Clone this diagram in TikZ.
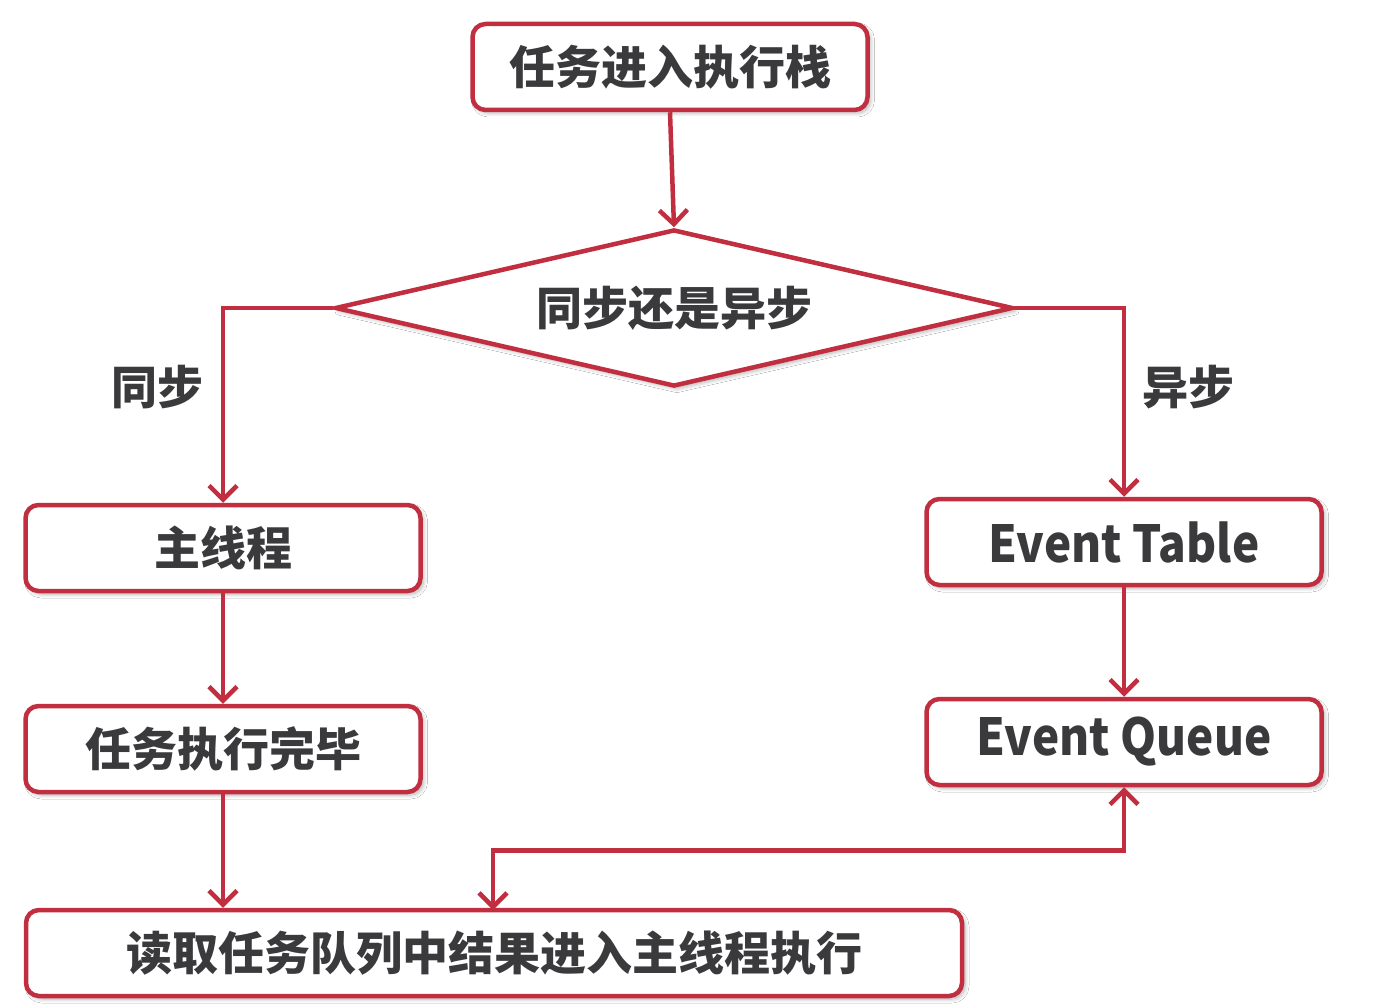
\documentclass[tikz,border=0pt]{standalone}
\usepackage{fontspec}
\newfontfamily\cjk{Noto Sans CJK SC}
\newfontfamily\enf{Noto Sans CJK SC}[FakeStretch=0.9]
\usetikzlibrary{arrows.meta,shapes.geometric,shadows.blur}
\definecolor{lred}{RGB}{192,46,64}
\definecolor{ltext}{RGB}{58,57,60}
\tikzset{
  shd/.style={blur shadow={shadow xshift=3pt, shadow yshift=-3pt, shadow blur steps=8, shadow blur radius=4pt, shadow opacity=30}},
  box/.style={draw=lred, line width=4.5pt, rounded corners=13pt, fill=white,
    minimum width=395pt, minimum height=86pt, inner sep=0pt, text=ltext,
    font=\cjk\bfseries\fontsize{46pt}{50pt}\selectfont, shd},
  lbl/.style={text=ltext, inner sep=0pt, font=\cjk\bfseries\fontsize{46pt}{50pt}\selectfont},
  en/.style={font=\enf\bfseries\fontsize{51pt}{56pt}\selectfont},
  barb/.tip={Straight Barb[length=14pt,width=28pt]},
  arr/.style={draw=lred, line width=4.5pt, -barb},
}
\begin{document}
\begin{tikzpicture}[x=1pt,y=-1pt]
\useasboundingbox (0,0) rectangle (1384,1008);
\fill[white] (0,0) rectangle (1384,1008);
\node[box] (start) at (670,67) {任务进入执行栈};
\node[diamond, shape aspect=4.32, draw=lred, line width=4.5pt, fill=white, minimum width=678pt, minimum height=157pt, inner sep=0pt,
  text=ltext, font=\cjk\bfseries\fontsize{46pt}{50pt}\selectfont, shd] (dec) at (674,308) {同步还是异步};
\node[box] (main) at (223,548) {主线程};
\node[box] (done) at (223,749) {任务执行完毕};
\node[box, minimum width=936pt] (read) at (494,953) {读取任务队列中结果进入主线程执行};
\node[box, en] (et) at (1124,542) {Event Table};
\node[box, en] (eq) at (1124,742) {Event Queue};
\node[lbl] (ls) at (157,387) {同步};
\node[lbl] (rs) at (1188,387) {异步};
\coordinate (rj) at (493,910);
\draw[arr] (start.south) -- (dec.north);
\draw[arr] (dec.west) -| (main.north);
\draw[arr] (dec.east) -| (et.north);
\draw[arr] (main.south) -- (done.north);
\draw[arr] (done.south) -- (read.north -| done.south);
\draw[arr] (et.south) -- (eq.north);
\draw[arr, barb-barb] (eq.south) -- ++(0,63) -| (rj);
\end{tikzpicture}
\end{document}
